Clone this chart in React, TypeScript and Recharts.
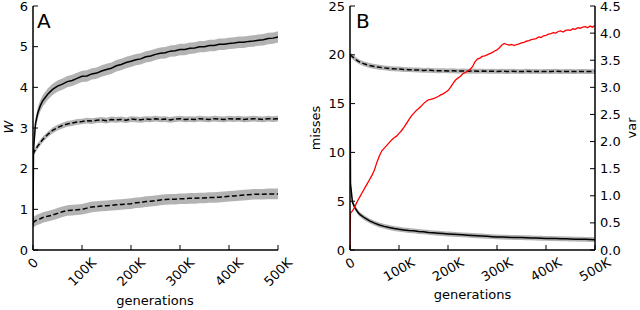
import React from 'react';
import { ComposedChart, Line, Area, XAxis, YAxis } from 'recharts';

// generations, in thousands
const GENS = [0, 1, 5, 10, 15, 20, 30, 40, 50, 60, 70, 80, 90, 100,
  110, 120, 130, 140, 150, 160, 170, 180, 190, 200,
  210, 220, 230, 240, 250, 260, 270, 280, 290, 300,
  310, 320, 330, 340, 350, 360, 370, 380, 390, 400,
  410, 420, 430, 440, 450, 460, 470, 480, 490, 500];

// panel A: W
const A_TOP = [0.6, 2.45, 3.1, 3.38, 3.55, 3.67, 3.83, 3.95, 4.03, 4.08, 4.14, 4.17, 4.22, 4.27,
  4.28, 4.33, 4.35, 4.4, 4.44, 4.47, 4.53, 4.56, 4.61, 4.64,
  4.68, 4.7, 4.75, 4.77, 4.81, 4.84, 4.85, 4.89, 4.9, 4.93,
  4.93, 4.96, 4.97, 5.0, 5.0, 5.03, 5.03, 5.06, 5.06, 5.08,
  5.09, 5.11, 5.11, 5.13, 5.14, 5.16, 5.17, 5.2, 5.21, 5.24];
const A_MID = [2.35, 2.38, 2.47, 2.56, 2.64, 2.72, 2.84, 2.94, 3.01, 3.06, 3.1, 3.12, 3.15, 3.16,
  3.18, 3.17, 3.19, 3.2, 3.18, 3.21, 3.2, 3.21, 3.19, 3.22,
  3.21, 3.2, 3.22, 3.21, 3.23, 3.21, 3.22, 3.2, 3.22, 3.23,
  3.21, 3.22, 3.21, 3.23, 3.22, 3.21, 3.23, 3.22, 3.21, 3.23,
  3.22, 3.23, 3.21, 3.22, 3.23, 3.22, 3.21, 3.23, 3.22, 3.23];
const A_LOW = [0.66, 0.68, 0.72, 0.75, 0.77, 0.8, 0.83, 0.86, 0.9, 0.94, 0.97, 0.98, 0.99, 1.0,
  1.03, 1.06, 1.07, 1.08, 1.09, 1.1, 1.11, 1.12, 1.13, 1.14,
  1.16, 1.17, 1.19, 1.2, 1.21, 1.23, 1.24, 1.25, 1.25, 1.26,
  1.26, 1.27, 1.27, 1.28, 1.28, 1.29, 1.29, 1.3, 1.31, 1.32,
  1.33, 1.34, 1.35, 1.36, 1.37, 1.37, 1.37, 1.38, 1.38, 1.38];
const A_SPREAD = { top: 0.14, mid: 0.07, low: 0.13 };

// panel B: misses
const B_UPPER = [20.0, 19.95, 19.8, 19.6, 19.4, 19.25, 19.05, 18.9, 18.8, 18.72, 18.66, 18.6, 18.56, 18.55,
  18.5, 18.48, 18.45, 18.44, 18.4, 18.42, 18.38, 18.37, 18.38, 18.35,
  18.36, 18.33, 18.35, 18.32, 18.34, 18.31, 18.33, 18.3, 18.32, 18.3,
  18.32, 18.29, 18.31, 18.3, 18.28, 18.31, 18.29, 18.3, 18.28, 18.3,
  18.29, 18.31, 18.28, 18.3, 18.29, 18.28, 18.3, 18.29, 18.28, 18.29];
const B_LOWER = [20.0, 6.8, 4.9, 4.35, 3.95, 3.65, 3.28, 2.98, 2.75, 2.56, 2.42, 2.3, 2.2, 2.12,
  2.06, 2.0, 1.96, 1.9, 1.86, 1.8, 1.76, 1.72, 1.68, 1.64,
  1.61, 1.58, 1.55, 1.52, 1.49, 1.46, 1.43, 1.4, 1.37, 1.34,
  1.32, 1.3, 1.29, 1.28, 1.27, 1.25, 1.24, 1.22, 1.21, 1.19,
  1.18, 1.17, 1.15, 1.14, 1.13, 1.11, 1.1, 1.09, 1.07, 1.06];
const B_SPREAD = 0.25;

// panel B: var (right axis)
const VAR_GENS = [0, 1, 5, 10, 15, 20, 25, 30, 35, 40, 45, 50, 55, 60, 65, 70, 75, 80, 85, 90, 95, 100,
  105, 110, 115, 120, 125, 130, 135, 140, 145, 150, 155, 160, 165, 170, 175, 180, 185, 190, 195, 200,
  205, 210, 215, 220, 225, 230, 235, 240, 245, 250, 255, 260, 265, 270, 275, 280, 285, 290, 295, 300,
  305, 310, 315, 320, 325, 330, 335, 340, 345, 350, 355, 360, 365, 370, 375, 380, 385, 390, 395, 400,
  405, 410, 415, 420, 425, 430, 435, 440, 445, 450, 455, 460, 465, 470, 475, 480, 485, 490, 495, 500];
const VAR = [0.02, 0.68, 0.72, 0.8, 0.9, 0.98, 1.06, 1.14, 1.22, 1.3, 1.38, 1.48, 1.62, 1.74, 1.83, 1.88, 1.93, 1.98, 2.03, 2.07, 2.1, 2.15,
  2.2, 2.26, 2.33, 2.4, 2.47, 2.52, 2.57, 2.61, 2.65, 2.7, 2.74, 2.77, 2.78, 2.79, 2.81, 2.83, 2.86, 2.88, 2.91, 2.94,
  3.0, 3.07, 3.13, 3.17, 3.2, 3.25, 3.27, 3.3, 3.33, 3.38, 3.47, 3.52, 3.54, 3.57, 3.58, 3.6, 3.62, 3.64, 3.67, 3.69,
  3.73, 3.78, 3.81, 3.79, 3.78, 3.79, 3.77, 3.79, 3.8, 3.82, 3.83, 3.85, 3.86, 3.88, 3.89, 3.9, 3.93, 3.92, 3.95, 3.96,
  3.98, 3.99, 4.01, 4.0, 4.03, 4.04, 4.02, 4.05, 4.06, 4.05, 4.08, 4.07, 4.1, 4.09, 4.11, 4.12, 4.1, 4.13, 4.11, 4.14];

const X_TICKS = [0, 100, 200, 300, 400, 500];
const A_Y_TICKS = [0, 1, 2, 3, 4, 5, 6];
const B_Y_TICKS = [0, 5, 10, 15, 20, 25];
const VAR_TICKS = [0, 0.5, 1, 1.5, 2, 2.5, 3, 3.5, 4, 4.5];

const FONT = '"DejaVu Sans", sans-serif';
const BAND = '#b3b3b3';

const fmtGen = (v: number) => (v === 0 ? '0' : `${v}K`);

const series = (vals: number[], spread: number) =>
  GENS.map((g, i) => ({ g, v: vals[i], band: [vals[i] - spread, vals[i] + spread] }));

const makeBottomTick = (angle: number) => (props: any) => {
  const { x, y, payload } = props;
  const label = fmtGen(payload.value);
  const a = (angle * Math.PI) / 180;
  const w = label.length * 8.3;
  const h = w * Math.sin(a) + 12 * Math.cos(a);
  const cy = y + 6 + h / 2;
  return (
    <g>
      <line x1={x} x2={x} y1={y} y2={y - 5} stroke="#000" />
      <text x={x} y={cy} textAnchor="middle" dominantBaseline="central" fontSize={13} fontFamily={FONT}
        fill="#000" transform={`rotate(${-angle} ${x} ${cy})`}>{label}</text>
    </g>
  );
};

const TopTick = (props: any) => {
  const { x, y } = props;
  return <line x1={x} x2={x} y1={y} y2={y + 5} stroke="#000" />;
};

const makeLeftTick = (fmt: (v: number) => string) => (props: any) => {
  const { x, y, payload } = props;
  return (
    <g>
      <line x1={x} x2={x + 5} y1={y} y2={y} stroke="#000" />
      <text x={x - 5} y={y + 4.5} textAnchor="end" fontSize={13} fontFamily={FONT} fill="#000">{fmt(payload.value)}</text>
    </g>
  );
};

const makeRightTick = (fmt: ((v: number) => string) | null) => (props: any) => {
  const { x, y, payload } = props;
  return (
    <g>
      <line x1={x} x2={x - 5} y1={y} y2={y} stroke="#000" />
      {fmt && <text x={x + 5} y={y + 4.5} textAnchor="start" fontSize={13} fontFamily={FONT} fill="#000">{fmt(payload.value)}</text>}
    </g>
  );
};

const axisLine = { stroke: '#000', strokeWidth: 1.5 };

const PanelA = () => {
  const top = series(A_TOP, A_SPREAD.top);
  const mid = series(A_MID, A_SPREAD.mid);
  const low = series(A_LOW, A_SPREAD.low);
  return (
    <ComposedChart width={300} height={310} margin={{ top: 6, right: 22, bottom: 0, left: 0 }}>
      <XAxis xAxisId="b" dataKey="g" type="number" domain={[0, 500]} ticks={X_TICKS} allowDataOverflow
        height={60} tickSize={0} tickMargin={0} tickLine={false} axisLine={axisLine} tick={makeBottomTick(45)} interval={0} />
      <XAxis xAxisId="t" orientation="top" dataKey="g" type="number" domain={[0, 500]} ticks={X_TICKS} allowDataOverflow
        height={0} tickSize={0} tickMargin={0} tickLine={false} axisLine={axisLine} tick={TopTick} interval={0} />
      <YAxis yAxisId="l" type="number" domain={[0, 6]} ticks={A_Y_TICKS} allowDataOverflow width={33}
        tickSize={0} tickMargin={0} tickLine={false} axisLine={axisLine} tick={makeLeftTick((v) => String(v))} interval={0} />
      <YAxis yAxisId="r" orientation="right" type="number" domain={[0, 6]} ticks={A_Y_TICKS} allowDataOverflow width={0}
        tickSize={0} tickMargin={0} tickLine={false} axisLine={axisLine} tick={makeRightTick(null)} interval={0} />
      <Area xAxisId="b" yAxisId="l" data={top} dataKey="band" type="linear" stroke="none" fill={BAND} fillOpacity={1} isAnimationActive={false} />
      <Area xAxisId="b" yAxisId="l" data={mid} dataKey="band" type="linear" stroke="none" fill={BAND} fillOpacity={1} isAnimationActive={false} />
      <Area xAxisId="b" yAxisId="l" data={low} dataKey="band" type="linear" stroke="none" fill={BAND} fillOpacity={1} isAnimationActive={false} />
      <Line xAxisId="b" yAxisId="l" data={top} dataKey="v" type="linear" stroke="#000" strokeWidth={1.5} dot={false} isAnimationActive={false} />
      <Line xAxisId="b" yAxisId="l" data={mid} dataKey="v" type="linear" stroke="#000" strokeWidth={1.5} strokeDasharray="5 2.5" dot={false} isAnimationActive={false} />
      <Line xAxisId="b" yAxisId="l" data={low} dataKey="v" type="linear" stroke="#000" strokeWidth={1.5} strokeDasharray="5 2.5" dot={false} isAnimationActive={false} />
    </ComposedChart>
  );
};

const PanelB = () => {
  const upper = series(B_UPPER, B_SPREAD);
  const lower = series(B_LOWER, B_SPREAD);
  const variance = VAR_GENS.map((g, i) => ({ g, v: VAR[i] }));
  return (
    <ComposedChart width={320} height={310} margin={{ top: 6, right: 0, bottom: 0, left: 0 }}>
      <XAxis xAxisId="b" dataKey="g" type="number" domain={[0, 500]} ticks={X_TICKS} allowDataOverflow
        height={60} tickSize={0} tickMargin={0} tickLine={false} axisLine={axisLine} tick={makeBottomTick(30)} interval={0} />
      <XAxis xAxisId="t" orientation="top" dataKey="g" type="number" domain={[0, 500]} ticks={X_TICKS} allowDataOverflow
        height={0} tickSize={0} tickMargin={0} tickLine={false} axisLine={axisLine} tick={TopTick} interval={0} />
      <YAxis yAxisId="l" type="number" domain={[0, 25]} ticks={B_Y_TICKS} allowDataOverflow width={30}
        tickSize={0} tickMargin={0} tickLine={false} axisLine={axisLine} tick={makeLeftTick((v) => String(v))} interval={0} />
      <YAxis yAxisId="r" orientation="right" type="number" domain={[0, 4.5]} ticks={VAR_TICKS} allowDataOverflow width={45}
        tickSize={0} tickMargin={0} tickLine={false} axisLine={axisLine} tick={makeRightTick((v) => v.toFixed(1))} interval={0} />
      <Area xAxisId="b" yAxisId="l" data={upper} dataKey="band" type="linear" stroke="none" fill={BAND} fillOpacity={1} isAnimationActive={false} />
      <Area xAxisId="b" yAxisId="l" data={lower} dataKey="band" type="linear" stroke="none" fill={BAND} fillOpacity={1} isAnimationActive={false} />
      <Line xAxisId="b" yAxisId="l" data={upper} dataKey="v" type="linear" stroke="#000" strokeWidth={1.5} strokeDasharray="5 2.5" dot={false} isAnimationActive={false} />
      <Line xAxisId="b" yAxisId="l" data={lower} dataKey="v" type="linear" stroke="#000" strokeWidth={1.5} dot={false} isAnimationActive={false} />
      <Line xAxisId="b" yAxisId="r" data={variance} dataKey="v" type="linear" stroke="#ff0000" strokeWidth={1.3} dot={false} isAnimationActive={false} />
    </ComposedChart>
  );
};

export default function App() {
  return (
    <div style={{ position: 'absolute', left: 0, top: 0, width: 640, height: 310, background: '#fff', overflow: 'hidden' }}>
      <div style={{ position: 'absolute', left: 0, top: 0 }}><PanelA /></div>
      <div style={{ position: 'absolute', left: 320, top: 0 }}><PanelB /></div>
      <svg width={640} height={310} style={{ position: 'absolute', left: 0, top: 0, pointerEvents: 'none' }}
        fontFamily={FONT} fill="#000">
        <text x={37} y={28} fontSize={20}>A</text>
        <text x={356} y={28} fontSize={20}>B</text>
        <text x={8} y={127} fontSize={13} fontStyle="italic" textAnchor="middle" dominantBaseline="central"
          transform="rotate(-90 8 127)">W</text>
        <text x={315} y={128} fontSize={13} textAnchor="middle" dominantBaseline="central"
          transform="rotate(-90 315 128)">misses</text>
        <text x={631} y={128} fontSize={13} textAnchor="middle" dominantBaseline="central"
          transform="rotate(-90 631 128)">var</text>
        <text x={155} y={305} fontSize={13} textAnchor="middle">generations</text>
        <text x={472.5} y={299} fontSize={13} textAnchor="middle">generations</text>
      </svg>
    </div>
  );
}
